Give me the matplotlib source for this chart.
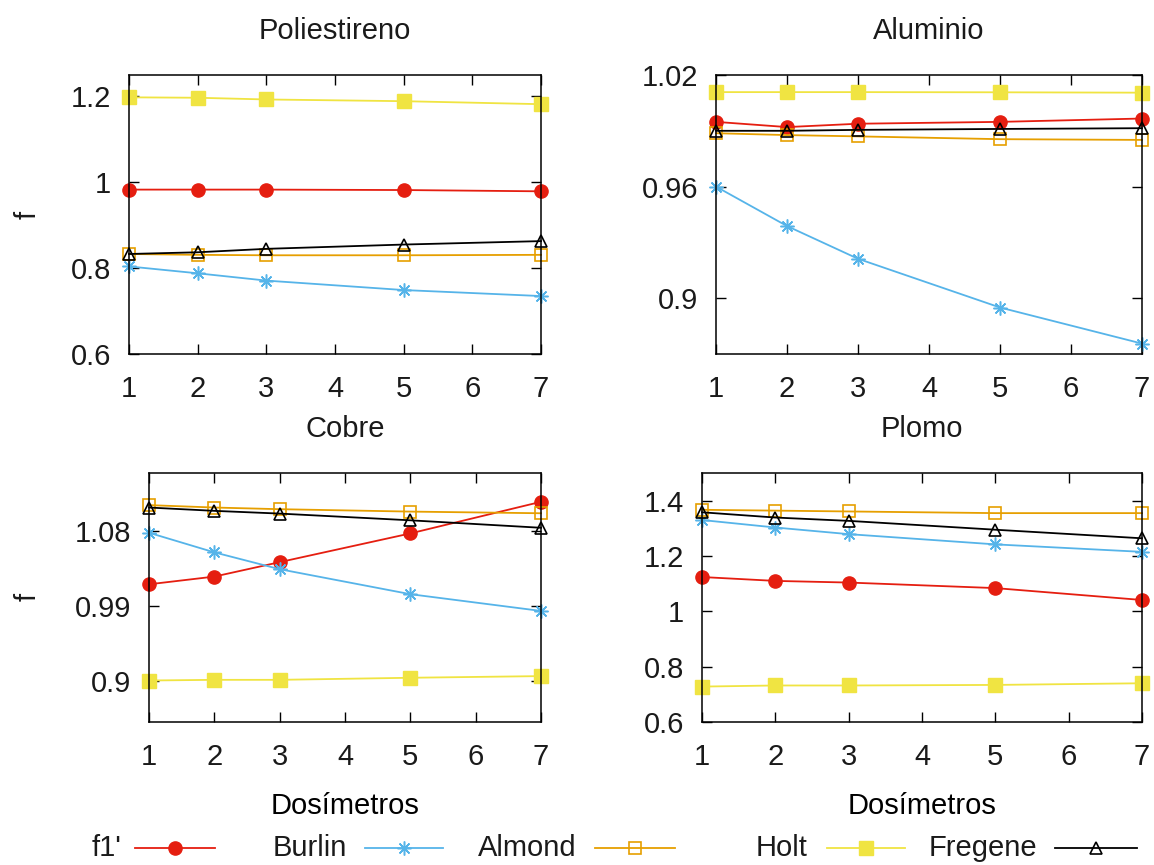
import numpy as np
import matplotlib
matplotlib.use('Agg')
import matplotlib.pyplot as plt
from matplotlib.lines import Line2D
from matplotlib.ticker import FormatStrFormatter

plt.rcParams['font.family'] = ['Liberation Sans', 'DejaVu Sans']
plt.rcParams['font.size'] = 21
plt.rcParams['axes.titlesize'] = 21
plt.rcParams['text.color'] = '#1a1a1a'
plt.rcParams['xtick.labelcolor'] = '#1a1a1a'
plt.rcParams['ytick.labelcolor'] = '#1a1a1a'

# dosimetros
x = [1, 2, 3, 5, 7]

# Poliestireno
pol_f1 = [0.983, 0.983, 0.983, 0.982, 0.979]
pol_burlin = [0.804, 0.788, 0.771, 0.749, 0.735]
pol_almond = [0.833, 0.831, 0.830, 0.830, 0.831]
pol_holt = [1.198, 1.197, 1.193, 1.189, 1.182]
pol_fregene = [0.833, 0.837, 0.845, 0.855, 0.863]

# Aluminio
alu_f1 = [0.9948, 0.9920, 0.9938, 0.9948, 0.9966]
alu_burlin = [0.9600, 0.9388, 0.9212, 0.8950, 0.8756]
alu_almond = [0.9887, 0.9877, 0.9870, 0.9855, 0.9851]
alu_holt = [1.0108, 1.0108, 1.0108, 1.0107, 1.0105]
alu_fregene = [0.9900, 0.9900, 0.9905, 0.9910, 0.9914]

# Cobre
cob_f1 = [1.0159, 1.0252, 1.0426, 1.0772, 1.1153]
cob_burlin = [1.0780, 1.0544, 1.0341, 1.0040, 0.9838]
cob_almond = [1.1113, 1.1084, 1.1064, 1.1035, 1.1015]
cob_holt = [0.9000, 0.9008, 0.9008, 0.9033, 0.9053]
cob_fregene = [1.1084, 1.1044, 1.1011, 1.0930, 1.0840]

# Plomo
plo_f1 = [1.124, 1.110, 1.104, 1.084, 1.041]
plo_burlin = [1.330, 1.303, 1.279, 1.242, 1.215]
plo_almond = [1.367, 1.364, 1.361, 1.355, 1.355]
plo_holt = [0.728, 0.732, 0.732, 0.734, 0.740]
plo_fregene = [1.358, 1.339, 1.327, 1.295, 1.264]

names = ["f1'", 'Burlin', 'Almond', 'Holt', 'Fregene']

# estilo de cada serie (color, marcador, relleno, tamano)
styles = [
    dict(color='#e51e10', marker='o', mfc='#e51e10', ms=9.5),
    dict(color='#56b4e9', marker=(8, 2, 0), mfc='#56b4e9', ms=10, mew=1.1),
    dict(color='#e69f00', marker='s', mfc='none', ms=8.5, mew=1.2),
    dict(color='#f0e442', marker='s', mfc='#f0e442', ms=10),
    dict(color='black', marker='^', mfc='none', ms=8, mew=1.2),
]

W, H = 1154, 865
fig = plt.figure(figsize=(W / 100, H / 100), dpi=100)


def px_axes(l, r, t, b):
    return fig.add_axes([l / W, 1 - b / H, (r - l) / W, (b - t) / H])


paneles = [
    ('Poliestireno', [pol_f1, pol_burlin, pol_almond, pol_holt, pol_fregene],
     (0.6, 1.25), [0.6, 0.8, 1.0, 1.2], (129, 541, 75, 354), False),
    ('Aluminio', [alu_f1, alu_burlin, alu_almond, alu_holt, alu_fregene],
     (0.87, 1.02), [0.9, 0.96, 1.02], (716, 1142, 75, 354), False),
    ('Cobre', [cob_f1, cob_burlin, cob_almond, cob_holt, cob_fregene],
     (0.85, 1.15), [0.9, 0.99, 1.08], (149, 541, 473, 722), True),
    ('Plomo', [plo_f1, plo_burlin, plo_almond, plo_holt, plo_fregene],
     (0.6, 1.5), [0.6, 0.8, 1.0, 1.2, 1.4], (702, 1142, 473, 722), True),
]

for titulo, series, ylim, yticks, pos, abajo in paneles:
    ax = px_axes(*pos)
    for ys, st in zip(series, styles):
        ax.plot(x, ys, lw=1.3, clip_on=False, **st)
    ax.set_xlim(1, 7)
    ax.set_ylim(*ylim)
    ax.set_xticks(range(1, 8))
    ax.set_yticks(yticks)
    ax.yaxis.set_major_formatter(FormatStrFormatter('%g'))
    ax.tick_params(direction='in', length=7, width=1, top=True, right=True)
    ax.tick_params(axis='x', pad=15)
    ax.tick_params(axis='y', pad=13)
    for s in ax.spines.values():
        s.set_linewidth(1.1)
    ax.set_title(titulo, pad=26)
    if abajo:
        ax.set_xlabel('Dosímetros', labelpad=15)

fig.text(28 / W, 1 - 215 / H, 'f', rotation=90, ha='center', va='center')
fig.text(28 / W, 1 - 597 / H, 'f', rotation=90, ha='center', va='center')

# leyenda al pie: texto y despues la muestra de linea
ley_y = 1 - 848 / H
ley_pos = [(122, 135, 215), (347, 365, 443), (577, 595, 675), (808, 827, 905), (1037, 1055, 1137)]
for nombre, st, (tx, l0, l1) in zip(names, styles, ley_pos):
    fig.text(tx / W, ley_y, nombre, ha='right', va='center')
    fig.add_artist(Line2D([l0 / W, l1 / W], [ley_y, ley_y], lw=1.3, color=st['color'],
                          transform=fig.transFigure))
    fig.add_artist(Line2D([(l0 + l1) / 2 / W], [ley_y], lw=0, transform=fig.transFigure,
                          **{k: v for k, v in st.items() if k != 'color'},
                          color=st['color']))

fig.savefig('out.png', dpi=100)
